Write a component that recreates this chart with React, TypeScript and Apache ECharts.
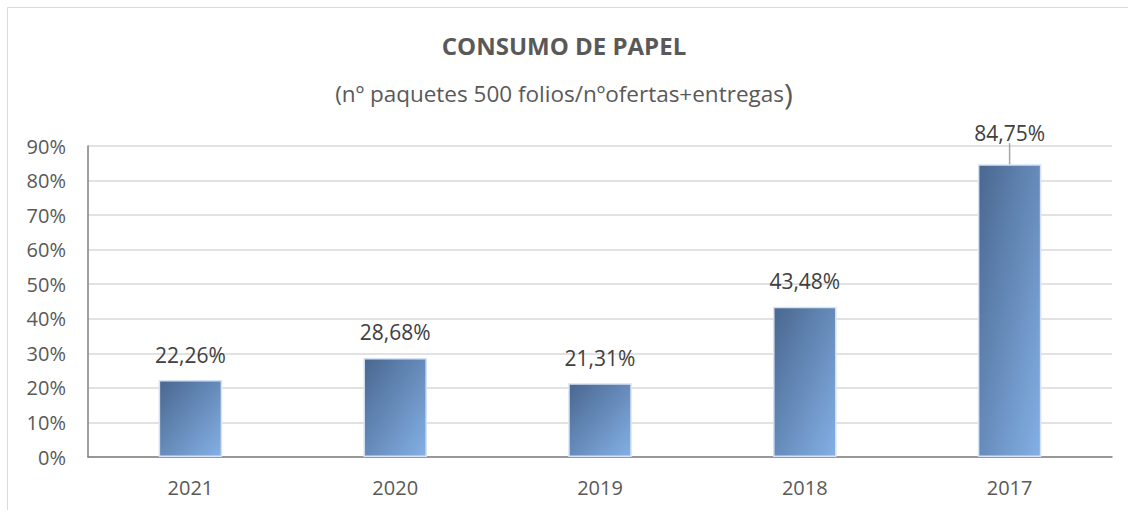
import React, { useEffect, useRef } from "react";
import * as echarts from "echarts";

const categories = ["2021", "2020", "2019", "2018", "2017"];
const values = [22.26, 28.68, 21.31, 43.48, 84.75];
const yMin = 0;
const yMax = 90;
const yInterval = 10;
const titleText = "CONSUMO DE PAPEL";
const subtitleText = "(nº paquetes 500 folios/nºofertas+entregas";

const FONT = "'Open Sans', sans-serif";

export default function App() {
  const ref = useRef<HTMLDivElement>(null);
  useEffect(() => {
    if (!ref.current) return;
    const chart = echarts.init(ref.current, undefined, { renderer: "svg" });
    chart.setOption({
      animation: false,
      backgroundColor: "#ffffff",
      textStyle: { fontFamily: FONT },
      title: {
        text: titleText,
        subtext: "{a|" + subtitleText + "}{b|)}",
        left: "center",
        top: 28,
        itemGap: 21,
        textStyle: { fontFamily: FONT, fontSize: 24, fontWeight: "bold", color: "#595959" },
        subtextStyle: {
          fontFamily: FONT,
          color: "#595959",
          rich: {
            a: { fontFamily: FONT, fontSize: 22.5, color: "#595959" },
            b: { fontFamily: FONT, fontSize: 30, color: "#595959" },
          },
        },
      },
      graphic: [
        {
          type: "rect",
          shape: { x: 7.5, y: 7.5, width: 1300, height: 700 },
          style: { fill: "none", stroke: "#d9d9d9", lineWidth: 1 },
          silent: true,
        },
      ],
      grid: { left: 88, right: 16, top: 146, bottom: 53 },
      xAxis: {
        type: "category",
        data: categories,
        axisLine: { show: true, lineStyle: { color: "#7f7f7f", width: 1.5 } },
        axisTick: { show: false },
        axisLabel: { fontFamily: FONT, fontSize: 20, color: "#595959", margin: 20 },
      },
      yAxis: {
        type: "value",
        min: yMin,
        max: yMax,
        interval: yInterval,
        axisLine: { show: true, lineStyle: { color: "#7f7f7f", width: 1.5 } },
        axisTick: { show: false },
        splitLine: { lineStyle: { color: "#d9d9d9", width: 1.5 } },
        axisLabel: {
          fontFamily: FONT,
          fontSize: 20,
          color: "#595959",
          margin: 22,
          formatter: "{value}%",
        },
      },
      series: [
        {
          type: "bar",
          data: values.map((v, i) =>
            i === values.length - 1
              ? { value: v, labelLine: { show: true, lineStyle: { color: "#a6a6a6", width: 1.5 } } }
              : { value: v }
          ),
          barWidth: "31%",
          itemStyle: {
            color: new echarts.graphic.LinearGradient(0, 0, 1, 1, [
              { offset: 0, color: "#49678f" },
              { offset: 1, color: "#84b0e6" },
            ]),
            borderColor: "#d6e2f3",
            borderWidth: 1.5,
          },
          label: {
            show: true,
            position: "top",
            distance: 15,
            fontFamily: FONT,
            fontSize: 21,
            color: "#404040",
            formatter: (p: any) => Number(p.value).toFixed(2).replace(".", ",") + "%",
          },
          labelLine: { show: false },
          labelLayout: (p: any) => (p.dataIndex === values.length - 1 ? { dy: -6 } : {}),
        },
      ],
    });
    return () => chart.dispose();
  }, []);
  return (
    <div
      ref={ref}
      style={{ position: "fixed", left: 0, top: 0, width: 1128, height: 510 }}
    />
  );
}
